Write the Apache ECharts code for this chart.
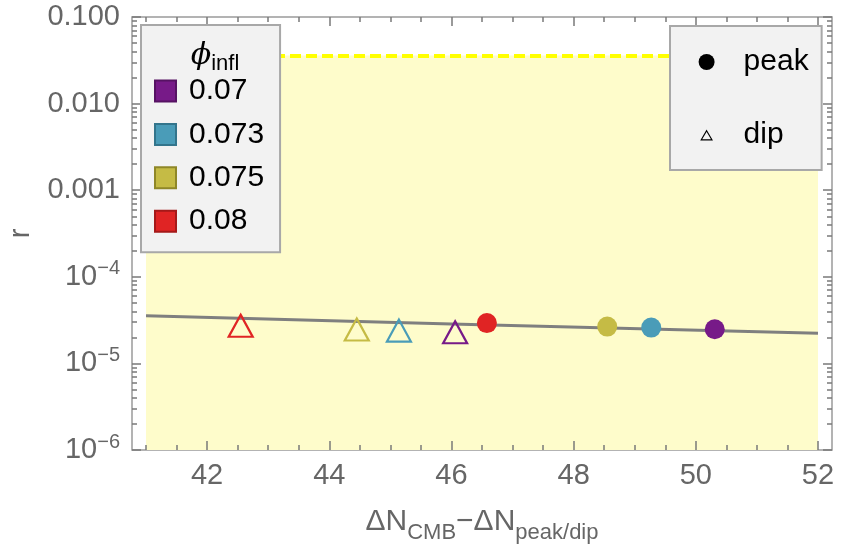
<!doctype html>
<html>
<head>
<meta charset="UTF-8">
<title>r vs ΔN</title>
<script src="https://cdn.jsdelivr.net/npm/echarts@6/dist/echarts.min.js"></script>
<style>
  html, body { margin: 0; padding: 0; background: #fff; }
  #chart { width: 843px; height: 549px; }
</style>
</head>
<body>
<div id="chart"></div>
<script>
// phi_infl values and their colours
var phiNames = ['0.07', '0.073', '0.075', '0.08'];
var phiColors = ['#771a88', '#4a9cb8', '#c5bb45', '#e02424'];
var phiBorders = ['#561263', '#33758c', '#8f8728', '#a51919'];

// peak / dip points, same order as phiNames
var peakX = [50.31, 49.27, 48.55, 46.58];
var peakR = [2.48e-5, 2.59e-5, 2.66e-5, 2.92e-5];
var dipX = [46.06, 45.14, 44.45, 42.55];
var dipR = [2.29e-5, 2.39e-5, 2.46e-5, 2.72e-5];

// gray line
var fitX = [41, 46, 52];
var fitR = [3.55e-5, 2.85e-5, 2.23e-5];

// allowed region (r < 0.036)
var bandX = [41, 52];
var bandR = [1e-6, 0.036];

// ticks
var xTicks = [42, 44, 46, 48, 50, 52];
var xMinorTicks = [41, 41.5, 42.5, 43, 43.5, 44.5, 45, 45.5, 46.5, 47, 47.5, 48.5, 49, 49.5, 50.5, 51, 51.5];
var yTicks = [1e-6, 1e-5, 1e-4, 0.001, 0.01, 0.1];
var yTickLabels = ['10{sup|−6}', '10{sup|−5}', '10{sup|−4}', '0.001', '0.010', '0.100'];

var yMinorTicks = [];
for (var e = -6; e < -1; e++) {
  for (var m = 2; m <= 9; m++) {
    yMinorTicks.push(m * Math.pow(10, e));
  }
}

var FONT = 'Liberation Sans';
var AXC = '#7a7a7a';
var LABC = '#666666';

function yLabel(v) {
  for (var i = 0; i < yTicks.length; i++) {
    if (Math.abs(Math.log10(v) - Math.log10(yTicks[i])) < 0.01) return yTickLabels[i];
  }
  return '';
}

// one axis per side per grid: grid 0 carries the major ticks, grid 2 the minor ones
function xAx(grid, pos, major, withLabel) {
  var a = {
    type: 'value', gridIndex: grid, position: pos, min: 41, max: 52, z: 10,
    axisLine: { show: false },
    splitLine: { show: false },
    axisTick: {
      show: true, inside: true, length: major ? 9 : 5,
      customValues: major ? xTicks : xMinorTicks,
      lineStyle: { color: AXC, width: 1.5 }
    },
    axisLabel: { show: false }
  };
  if (withLabel) {
    a.axisLabel = {
      show: true, customValues: xTicks, margin: 11,
      fontFamily: FONT, fontSize: 29, color: LABC,
      formatter: function(v) { return String(v); }
    };
    a.name = '{t|ΔN}{s|CMB}{t|−ΔN}{s|peak/dip}';
    a.nameLocation = 'middle';
    a.nameGap = 57;
    a.nameTextStyle = {
      rich: {
        t: { fontFamily: FONT, fontSize: 30, color: LABC, lineHeight: 36, verticalAlign: 'top' },
        s: { fontFamily: FONT, fontSize: 22, color: LABC, lineHeight: 36, verticalAlign: 'top', padding: [15, 0, 0, 0] }
      }
    };
  }
  return a;
}

function yAx(grid, pos, major, withLabel) {
  var a = {
    type: 'log', gridIndex: grid, position: pos, min: 1e-6, max: 0.1, offset: 14, z: 10,
    axisLine: { show: false },
    splitLine: { show: false },
    axisTick: {
      show: true, inside: true, length: major ? 9 : 5,
      customValues: major ? yTicks : yMinorTicks,
      lineStyle: { color: AXC, width: 1.5 }
    },
    axisLabel: { show: false }
  };
  if (withLabel) {
    a.axisLabel = {
      show: true, customValues: yTicks, margin: 12,
      fontFamily: FONT, fontSize: 29, color: LABC,
      formatter: yLabel,
      rich: {
        sup: { fontFamily: FONT, fontSize: 20, color: LABC, padding: [0, 0, 16, 0] }
      }
    };
    a.name = 'r';
    a.nameLocation = 'middle';
    a.nameRotate = 90;
    a.nameGap = 97;
    a.nameTextStyle = { fontFamily: FONT, fontSize: 29, color: LABC };
  }
  return a;
}

var series = [];

// allowed band + dashed bound
series.push({
  name: 'band', type: 'line', xAxisIndex: 0, yAxisIndex: 0, z: 1,
  data: [], symbol: 'none',
  markArea: {
    silent: true,
    itemStyle: { color: '#fefccb' },
    data: [[{ coord: [bandX[0], bandR[0]] }, { coord: [bandX[1], bandR[1]] }]]
  },
  markLine: {
    silent: true, symbol: 'none', label: { show: false },
    lineStyle: { color: '#ffff00', width: 4, type: [11, 5] },
    data: [[{ coord: [bandX[0], bandR[1]] }, { coord: [bandX[1], bandR[1]] }]]
  }
});

series.push({
  name: 'fit', type: 'line', xAxisIndex: 0, yAxisIndex: 0, z: 2,
  symbol: 'none',
  lineStyle: { color: '#7f7f7f', width: 3 },
  data: fitX.map(function(x, i) { return [x, fitR[i]]; })
});

series.push({
  name: 'peak', type: 'scatter', xAxisIndex: 0, yAxisIndex: 0, z: 4,
  symbol: 'circle', symbolSize: 20,
  itemStyle: { color: '#000', opacity: 1 },
  data: peakX.map(function(x, i) {
    return { value: [x, peakR[i]], itemStyle: { color: phiColors[i], opacity: 1 } };
  })
});

series.push({
  name: 'dip', type: 'scatter', xAxisIndex: 0, yAxisIndex: 0, z: 3,
  symbol: 'triangle', symbolSize: [24, 22],
  itemStyle: { color: 'rgba(0,0,0,0)', borderColor: '#000', borderWidth: 2, opacity: 1 },
  data: dipX.map(function(x, i) {
    return { value: [x, dipR[i]], itemStyle: { color: 'rgba(0,0,0,0)', borderColor: phiColors[i], borderWidth: 2.2 } };
  })
});

// legend entries for phi_infl
for (var i = 0; i < phiNames.length; i++) {
  series.push({
    name: phiNames[i], type: 'scatter', xAxisIndex: 0, yAxisIndex: 0, data: [],
    itemStyle: { color: phiColors[i], borderColor: phiBorders[i], borderWidth: 1.5, opacity: 1 }
  });
}

var chart = echarts.init(document.getElementById('chart'));
chart.setOption({
  animation: false,
  grid: [
    { left: 146, right: 25, top: 17, bottom: 99, outerBoundsMode: 'none' },
    { left: 132, right: 11, top: 17, bottom: 99, outerBoundsMode: 'none', show: true, backgroundColor: 'transparent', borderColor: '#9a9a9a', borderWidth: 1.5 },
    { left: 146, right: 25, top: 17, bottom: 99, outerBoundsMode: 'none' }
  ],
  xAxis: [
    xAx(0, 'bottom', true, true),
    xAx(0, 'top', true, false),
    xAx(2, 'bottom', false, false),
    xAx(2, 'top', false, false),
    { type: 'value', gridIndex: 1, show: false, min: 0, max: 1 }
  ],
  yAxis: [
    yAx(0, 'left', true, true),
    yAx(0, 'right', true, false),
    yAx(2, 'left', false, false),
    yAx(2, 'right', false, false),
    { type: 'value', gridIndex: 1, show: false, min: 0, max: 1 }
  ],
  title: {
    text: '{p|ϕ}{s|infl}',
    left: 210, top: 36, textAlign: 'center', z: 20,
    textStyle: {
      fontWeight: 'normal',
      rich: {
        p: { fontFamily: 'DejaVu Serif', fontStyle: 'italic', fontWeight: 'normal', fontSize: 30, color: '#000', verticalAlign: 'top', lineHeight: 36 },
        s: { fontFamily: FONT, fontWeight: 'normal', fontSize: 22, color: '#000', verticalAlign: 'top', lineHeight: 36, padding: [12, 0, 0, 0] }
      }
    }
  },
  legend: [
    {
      orient: 'vertical', left: 141, top: 25, z: 20,
      data: phiNames.map(function(n) { return { name: n, icon: 'rect' }; }),
      itemWidth: 21, itemHeight: 21, itemGap: 13.4,
      padding: [51, 16, 16, 13],
      backgroundColor: '#f2f2f2', borderColor: '#a8a8a8', borderWidth: 2,
      textStyle: { fontFamily: FONT, fontSize: 30, color: '#000', lineHeight: 30, padding: [0, 0, 0, 8] },
      selectedMode: false
    },
    {
      orient: 'vertical', left: 670, top: 26, z: 20,
      data: [
        { name: 'peak', icon: 'circle', itemStyle: { color: '#000', borderWidth: 0, opacity: 1 } },
        { name: 'dip', icon: 'path://M0,0 M15,15 M7.5,3.5 L12.5,12 L2.5,12 Z', itemStyle: { color: 'rgba(0,0,0,0)', borderColor: '#000', borderWidth: 1.2, opacity: 1 } }
      ],
      itemWidth: 16, itemHeight: 16, itemGap: 43,
      padding: [21, 13, 20, 28],
      backgroundColor: '#f2f2f2', borderColor: '#a8a8a8', borderWidth: 2,
      textStyle: { fontFamily: FONT, fontSize: 30, color: '#000', lineHeight: 30, padding: [0, 0, 0, 24] },
      selectedMode: false
    }
  ],
  series: series
});
</script>
</body>
</html>
